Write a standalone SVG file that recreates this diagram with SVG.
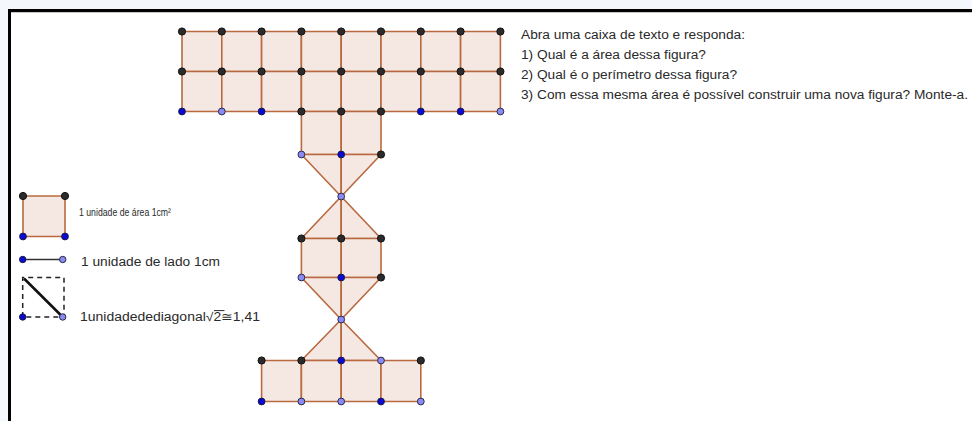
<svg xmlns="http://www.w3.org/2000/svg" width="972" height="421" viewBox="0 0 972 421">
<style>
.sq{fill:#f5e8e3;stroke:#b8693f;stroke-width:1.6;stroke-linejoin:round}
.k{fill:#2b2b2b;stroke:#111;stroke-width:1}
.b{fill:#0a0ad8;stroke:#1a1a40;stroke-width:1}
.l{fill:#8a8af5;stroke:#2a2a4a;stroke-width:1}
.t{font-family:"Liberation Sans",Arial,sans-serif;font-size:12px;fill:#2a2a2a}
.s{font-family:"Liberation Sans",Arial,sans-serif;font-size:10.5px;fill:#2a2a2a}
</style>
<rect x="0" y="0" width="972" height="421" fill="#ffffff"/>
<rect x="0" y="0" width="972" height="9" fill="#f4f7fb"/>
<rect x="0" y="0" width="8" height="421" fill="#f4f7fb"/>
<rect x="8" y="9" width="964" height="3" fill="#000"/>
<rect x="8" y="9" width="3" height="412" fill="#000"/>
<line x1="11" y1="12.5" x2="972" y2="12.5" stroke="#c8c8c8" stroke-width="1"/>

<g id="top-grid">
<rect class="sq" x="182" y="31.5" width="39.8" height="40"/>
<rect class="sq" x="221.8" y="31.5" width="39.8" height="40"/>
<rect class="sq" x="261.6" y="31.5" width="39.8" height="40"/>
<rect class="sq" x="301.4" y="31.5" width="39.8" height="40"/>
<rect class="sq" x="341.2" y="31.5" width="39.8" height="40"/>
<rect class="sq" x="381" y="31.5" width="39.8" height="40"/>
<rect class="sq" x="420.8" y="31.5" width="39.8" height="40"/>
<rect class="sq" x="460.6" y="31.5" width="39.8" height="40"/>
<rect class="sq" x="182" y="71.5" width="39.8" height="40"/>
<rect class="sq" x="221.8" y="71.5" width="39.8" height="40"/>
<rect class="sq" x="261.6" y="71.5" width="39.8" height="40"/>
<rect class="sq" x="301.4" y="71.5" width="39.8" height="40"/>
<rect class="sq" x="341.2" y="71.5" width="39.8" height="40"/>
<rect class="sq" x="381" y="71.5" width="39.8" height="40"/>
<rect class="sq" x="420.8" y="71.5" width="39.8" height="40"/>
<rect class="sq" x="460.6" y="71.5" width="39.8" height="40"/>
</g>

<g id="stem-squares">
<rect class="sq" x="301.4" y="111.5" width="39.8" height="43"/>
<rect class="sq" x="341.2" y="111.5" width="39.8" height="43"/>
</g>

<g id="hourglass-1">
<polygon class="sq" points="301.4,154.5 341.2,154.5 341.2,196.5"/>
<polygon class="sq" points="341.2,154.5 381,154.5 341.2,196.5"/>
<polygon class="sq" points="341.2,196.5 301.4,238.5 341.2,238.5"/>
<polygon class="sq" points="341.2,196.5 341.2,238.5 381,238.5"/>
</g>

<g id="middle-squares">
<rect class="sq" x="301.4" y="238.5" width="39.8" height="39"/>
<rect class="sq" x="341.2" y="238.5" width="39.8" height="39"/>
</g>

<g id="hourglass-2">
<polygon class="sq" points="301.4,277.5 341.2,277.5 341.2,319.5"/>
<polygon class="sq" points="341.2,277.5 381,277.5 341.2,319.5"/>
<polygon class="sq" points="341.2,319.5 301.4,360.5 341.2,360.5"/>
<polygon class="sq" points="341.2,319.5 341.2,360.5 381,360.5"/>
</g>

<g id="bottom-squares">
<rect class="sq" x="261.6" y="360.5" width="39.8" height="41"/>
<rect class="sq" x="301.4" y="360.5" width="39.8" height="41"/>
<rect class="sq" x="341.2" y="360.5" width="39.8" height="41"/>
<rect class="sq" x="381" y="360.5" width="39.8" height="41"/>
</g>

<g id="points">
<circle class="k" cx="182" cy="31.5" r="3.6"/>
<circle class="k" cx="221.8" cy="31.5" r="3.6"/>
<circle class="k" cx="261.6" cy="31.5" r="3.6"/>
<circle class="k" cx="301.4" cy="31.5" r="3.6"/>
<circle class="k" cx="341.2" cy="31.5" r="3.6"/>
<circle class="k" cx="381" cy="31.5" r="3.6"/>
<circle class="k" cx="420.8" cy="31.5" r="3.6"/>
<circle class="k" cx="460.6" cy="31.5" r="3.6"/>
<circle class="k" cx="500.4" cy="31.5" r="3.6"/>
<circle class="k" cx="182" cy="71.5" r="3.6"/>
<circle class="k" cx="221.8" cy="71.5" r="3.6"/>
<circle class="k" cx="261.6" cy="71.5" r="3.6"/>
<circle class="k" cx="301.4" cy="71.5" r="3.6"/>
<circle class="k" cx="341.2" cy="71.5" r="3.6"/>
<circle class="k" cx="381" cy="71.5" r="3.6"/>
<circle class="k" cx="420.8" cy="71.5" r="3.6"/>
<circle class="k" cx="460.6" cy="71.5" r="3.6"/>
<circle class="k" cx="500.4" cy="71.5" r="3.6"/>
<circle class="b" cx="182" cy="111.5" r="3.4"/>
<circle class="l" cx="221.8" cy="111.5" r="3.4"/>
<circle class="b" cx="261.6" cy="111.5" r="3.4"/>
<circle class="k" cx="301.4" cy="111.5" r="3.6"/>
<circle class="k" cx="341.2" cy="111.5" r="3.6"/>
<circle class="k" cx="381" cy="111.5" r="3.6"/>
<circle class="b" cx="420.8" cy="111.5" r="3.4"/>
<circle class="b" cx="460.6" cy="111.5" r="3.4"/>
<circle class="l" cx="500.4" cy="111.5" r="3.4"/>
<circle class="l" cx="301.4" cy="154.5" r="3.4"/>
<circle class="b" cx="341.2" cy="154.5" r="3.4"/>
<circle class="k" cx="381" cy="154.5" r="3.6"/>
<circle class="l" cx="341.2" cy="196.5" r="3.4"/>
<circle class="k" cx="301.4" cy="238.5" r="3.6"/>
<circle class="k" cx="341.2" cy="238.5" r="3.6"/>
<circle class="k" cx="381" cy="238.5" r="3.6"/>
<circle class="l" cx="301.4" cy="277.5" r="3.4"/>
<circle class="b" cx="341.2" cy="277.5" r="3.4"/>
<circle class="k" cx="381" cy="277.5" r="3.6"/>
<circle class="l" cx="341.2" cy="319.5" r="3.4"/>
<circle class="k" cx="261.6" cy="360.5" r="3.6"/>
<circle class="k" cx="301.4" cy="360.5" r="3.6"/>
<circle class="b" cx="341.2" cy="360.5" r="3.4"/>
<circle class="l" cx="381" cy="360.5" r="3.4"/>
<circle class="k" cx="420.8" cy="360.5" r="3.6"/>
<circle class="b" cx="261.6" cy="401.5" r="3.4"/>
<circle class="l" cx="301.4" cy="401.5" r="3.4"/>
<circle class="l" cx="341.2" cy="401.5" r="3.4"/>
<circle class="b" cx="381" cy="401.5" r="3.4"/>
<circle class="l" cx="420.8" cy="401.5" r="3.4"/>
</g>

<g id="instructions">
<text class="t" x="521" y="38.5" textLength="224" lengthAdjust="spacingAndGlyphs">Abra uma caixa de texto e responda:</text>
<text class="t" x="521" y="59" textLength="185" lengthAdjust="spacingAndGlyphs">1) Qual é a área dessa figura?</text>
<text class="t" x="521" y="79" textLength="216" lengthAdjust="spacingAndGlyphs">2) Qual é o perímetro dessa figura?</text>
<text class="t" x="521" y="99" textLength="447" lengthAdjust="spacingAndGlyphs">3) Com essa mesma área é possível construir uma nova figura? Monte-a.</text>
</g>

<g id="legend-area">
<rect class="sq" x="23" y="196" width="42" height="40.5"/>
<circle class="k" cx="23" cy="196" r="3.6"/>
<circle class="k" cx="65" cy="196" r="3.6"/>
<circle class="b" cx="23" cy="236.5" r="3.4"/>
<circle class="b" cx="65" cy="236.5" r="3.4"/>
<text class="s" x="79" y="216" textLength="92" lengthAdjust="spacingAndGlyphs">1 unidade de área 1cm²</text>
</g>

<g id="legend-side">
<line x1="22.7" y1="259.5" x2="62.7" y2="259.5" stroke="#333" stroke-width="1.5"/>
<circle class="b" cx="22.7" cy="259.5" r="3.2"/>
<circle class="l" cx="62.7" cy="259.5" r="3.2"/>
<text class="t" x="81" y="265.5" textLength="139" lengthAdjust="spacingAndGlyphs">1 unidade de lado 1cm</text>
</g>

<g id="legend-diagonal">
<path d="M22.7,317 V277.5 H64 V317 H22.7" fill="none" stroke="#222" stroke-width="1.5" stroke-dasharray="5,4"/>
<line x1="24" y1="278.5" x2="62.7" y2="317" stroke="#111" stroke-width="2.6"/>
<circle class="b" cx="22.7" cy="317" r="3.2"/>
<circle class="l" cx="62.7" cy="317" r="3.2"/>
<text class="t" x="80" y="321" textLength="180" lengthAdjust="spacingAndGlyphs">1unidadedediagonal√2≅1,41</text>
<line x1="214" y1="310.6" x2="224.5" y2="310.6" stroke="#2a2a2a" stroke-width="1"/>
</g>
</svg>
